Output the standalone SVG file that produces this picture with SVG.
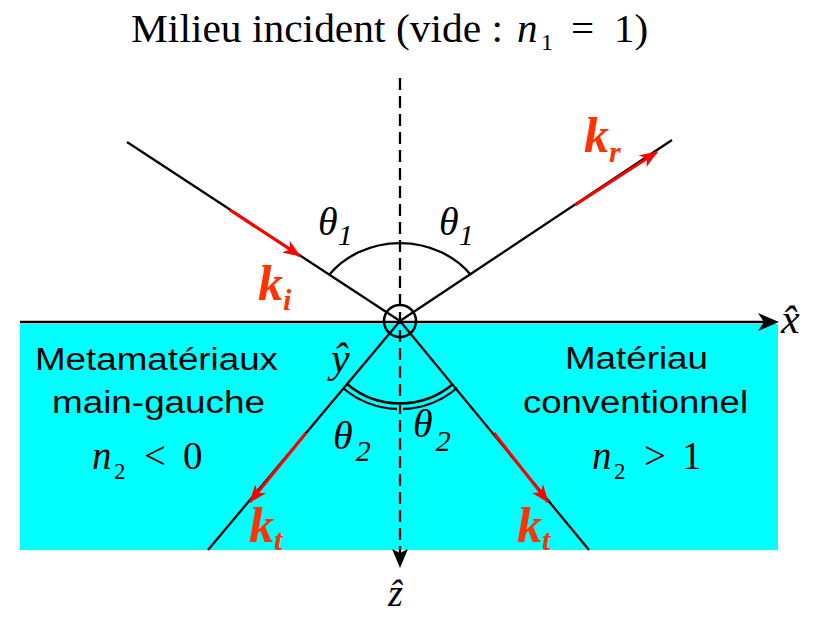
<svg xmlns="http://www.w3.org/2000/svg" width="815" height="617" viewBox="0 0 815 617">
<defs>
<style>
.ln{stroke:#000;stroke-width:2.3;fill:none}
.red{stroke:#ff0000;stroke-width:3;fill:none}
.tm{font-family:"Liberation Serif","Times New Roman",serif;fill:#000}
.it{font-style:italic}
.ar{font-family:"Liberation Sans",Arial,sans-serif;font-size:31px;fill:#000}
.k{font-family:"Liberation Serif","Times New Roman",serif;font-style:italic;font-weight:bold;fill:#ff3300}
</style>
<marker id="ra" viewBox="0 0 18 14" refX="17" refY="7" markerWidth="18" markerHeight="14" markerUnits="userSpaceOnUse" orient="auto">
<path d="M0,0 L18,7 L0,14 L5,7 Z" fill="#ff0000"/>
</marker>
</defs>
<g id="medium">
<rect x="20" y="324" width="758" height="226" fill="#00ffff"/>
</g>
<g id="title">
<text class="tm" font-size="41" y="42"><tspan x="131" textLength="372" lengthAdjust="spacingAndGlyphs">Milieu incident (vide :</tspan><tspan class="it" x="517">n</tspan><tspan font-size="24" x="541" y="50">1</tspan><tspan x="571" y="42">=</tspan><tspan x="614">1)</tspan></text>
</g>
<g id="connectors">
<line class="ln" x1="400" y1="78" x2="400" y2="553" stroke-dasharray="12,6" stroke-width="2.8"/>
<path d="M392,549 L400,568 L408,549 L400,553 Z" fill="#000"/>
<line class="ln" x1="20" y1="322" x2="764" y2="322" stroke-width="3"/>
<path d="M758,313 L779,322 L758,331 L764,322 Z" fill="#000"/>
<line class="ln" x1="127" y1="142" x2="400" y2="321"/>
<line class="ln" x1="400" y1="321" x2="672" y2="140"/>
<line class="ln" x1="400" y1="321" x2="208" y2="550"/>
<line class="ln" x1="400" y1="321" x2="589" y2="550"/>
<line class="red" x1="230" y1="210" x2="300" y2="256" marker-end="url(#ra)"/>
<line class="red" x1="575" y1="205" x2="657" y2="152" marker-end="url(#ra)"/>
<line class="red" x1="306" y1="433" x2="250" y2="502" marker-end="url(#ra)"/>
<line class="red" x1="494" y1="433" x2="548" y2="502" marker-end="url(#ra)"/>
<path class="ln" d="M329,275 A88,78 0 0 1 471,275"/>
<path class="ln" d="M347,384 A82,82 0 0 0 453,384"/>
<path class="ln" d="M343,388 A88,88 0 0 0 397,409"/>
<path class="ln" d="M403,409 A88,88 0 0 0 457,388"/>
<circle cx="400" cy="321" r="16" fill="none" stroke="#000" stroke-width="2.5"/>
</g>
<g id="left-medium">
<text class="ar" x="35" y="370" textLength="243" lengthAdjust="spacingAndGlyphs">Metamatériaux</text>
<text class="ar" x="52" y="413" textLength="213" lengthAdjust="spacingAndGlyphs">main-gauche</text>
<text class="tm" font-size="39" y="469"><tspan class="it" x="92">n</tspan><tspan font-size="23" x="114" y="479">2</tspan><tspan x="144" y="469">&lt;</tspan><tspan x="183">0</tspan></text>
</g>
<g id="right-medium">
<text class="ar" x="565" y="369" textLength="143" lengthAdjust="spacingAndGlyphs">Matériau</text>
<text class="ar" x="523" y="413" textLength="225" lengthAdjust="spacingAndGlyphs">conventionnel</text>
<text class="tm" font-size="39" y="469"><tspan class="it" x="592">n</tspan><tspan font-size="23" x="614" y="479">2</tspan><tspan x="644" y="469">&gt;</tspan><tspan x="682">1</tspan></text>
</g>
<g id="angles">
<text class="tm it" font-size="40" x="318" y="235">θ<tspan font-size="30" y="245">1</tspan></text>
<text class="tm it" font-size="40" x="439" y="235">θ<tspan font-size="30" y="245">1</tspan></text>
<text class="tm it" font-size="40" x="333" y="449">θ<tspan font-size="30" dx="3" y="461">2</tspan></text>
<text class="tm it" font-size="40" x="413" y="437">θ<tspan font-size="30" dx="3" y="451">2</tspan></text>
</g>
<g id="vectors">
<text class="k" font-size="50" x="258" y="300">k<tspan font-size="30" y="310">i</tspan></text>
<text class="k" font-size="50" x="584" y="152">k<tspan font-size="30" y="162">r</tspan></text>
<text class="k" font-size="50" x="249" y="542">k<tspan font-size="30" y="550">t</tspan></text>
<text class="k" font-size="50" x="517" y="542">k<tspan font-size="30" y="550">t</tspan></text>
</g>
<g id="axes-labels">
<text class="tm it" font-size="42" x="331" y="372">ŷ</text>
<text class="tm it" font-size="42" x="781" y="333">x̂</text>
<text class="tm it" font-size="38" x="388" y="606">ẑ</text>
</g>
</svg>
